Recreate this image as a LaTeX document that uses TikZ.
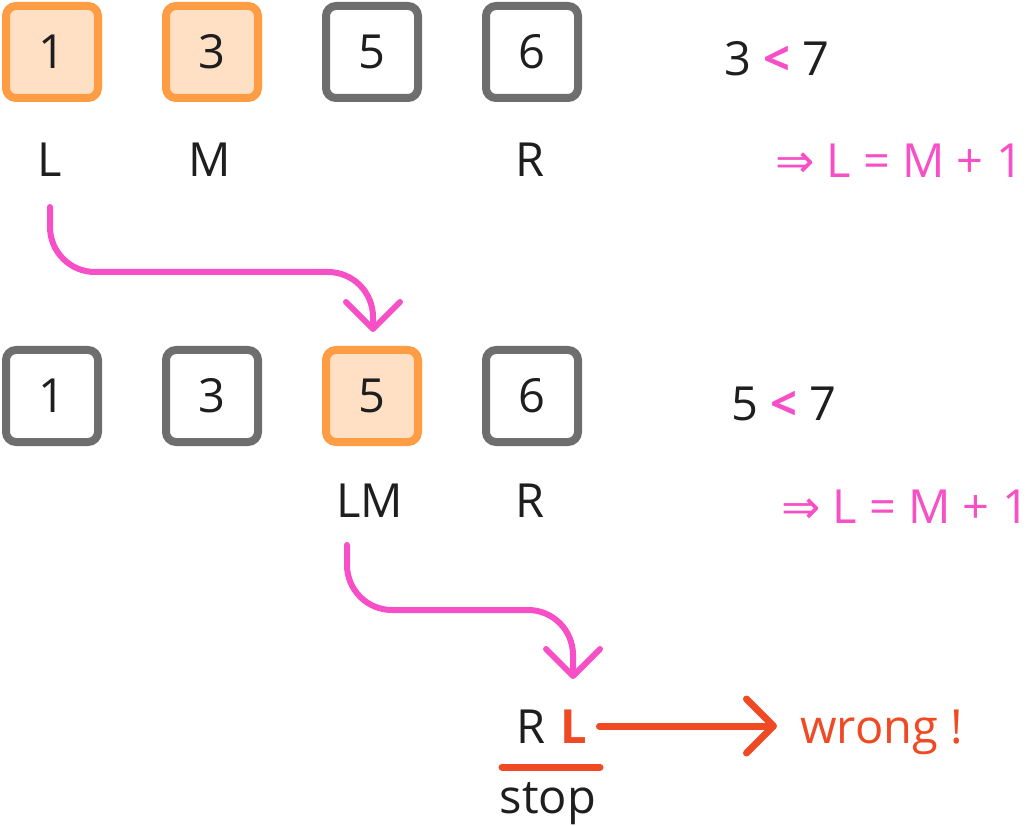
\documentclass[tikz,border=0pt]{standalone}
\usepackage{fontspec}
\setmainfont{Open Sans}
\newfontfamily\symfont{DejaVu Sans}
\usetikzlibrary{arrows.meta,calc}
\definecolor{boxgray}{HTML}{6E6E6E}
\definecolor{hiline}{HTML}{FF9D45}
\definecolor{hifill}{HTML}{FFE0C4}
\definecolor{pinkc}{HTML}{F74FC5}
\definecolor{redc}{HTML}{EF4A23}
\definecolor{ink}{HTML}{1E1E1E}
\begin{document}
\begin{tikzpicture}[x=1pt,y=-1pt,
  every node/.style={font=\fontsize{47}{56}\selectfont, text=ink, inner sep=0pt},
  cell/.style={draw=boxgray, line width=8pt, rounded corners=10pt, minimum size=92pt, fill=white},
  hicell/.style={cell, draw=hiline, fill=hifill},
  lbl/.style={anchor=base},
  note/.style={anchor=base, text=pinkc},
  movearrow/.style={draw=pinkc, line width=6pt, line cap=round, rounded corners=45pt,
    -{Straight Barb[length=27pt,width=54pt,round]}},
  failarrow/.style={draw=redc, line width=7pt, line cap=round,
    -{Straight Barb[length=27pt,width=54pt,round]}}
]
\useasboundingbox (0,0) rectangle (1031,826);

% first pass: array and pointers
\node[hicell] (a1) at (52,52) {1};
\node[hicell] (a2) at (212,52) {3};
\node[cell]   (a3) at (372,52) {5};
\node[cell]   (a4) at (532,52) {6};
\node[lbl] (l1) at (50,177) {L};
\node[lbl] (m1) at (210,177) {M};
\node[lbl] (r1) at (530,177) {R};
\node[lbl] (c1) at (777,76) {3 {\bfseries\color{pinkc}<} 7};
\node[note] (n1) at (899,178) {{\symfont ⇒} L = M + 1};

% second pass
\node[cell]   (b1) at (52,396) {1};
\node[cell]   (b2) at (212,396) {3};
\node[hicell] (b3) at (372,396) {5};
\node[cell]   (b4) at (532,396) {6};
\node[lbl] (lm2) at (370,517) {LM};
\node[lbl] (r2) at (530,517) {R};
\node[lbl] (c2) at (784,420) {5 {\bfseries\color{pinkc}<} 7};
\node[note] (n2) at (905,523) {{\symfont ⇒} L = M + 1};

% final state: pointers crossed
\node[lbl] (r3) at (531,743) {R};
\node[lbl, text=redc, font=\fontsize{47}{56}\selectfont\bfseries] (l3) at (574,743) {L};
\node[lbl, anchor=base west, text=redc] (wrong) at (800,743) {wrong !};
\node[lbl] (stop) at (548,813) {stop};
\draw[redc, line width=7pt, line cap=round] ($(stop.base)+(-46,-46)$) -- ($(stop.base)+(52,-46)$);

% moves of L
\coordinate (mid1) at (0,272);
\coordinate (s1) at ($(l1.base)+(0,30)$);
\coordinate (e1) at ($(b3.north)+(1,-14)$);
\draw[movearrow] (s1) -- (s1 |- mid1) -- (e1 |- mid1) -- (e1);

\coordinate (mid2) at (0,610);
\coordinate (s2) at ($(lm2.base)+(-23,28)$);
\coordinate (e2) at ($(l3.base)+(-1,-64)$);
\draw[movearrow] (s2) -- (s2 |- mid2) -- (e2 |- mid2) -- (e2);

\draw[failarrow] ($(l3.base east)+(12,-17)$) -- ($(wrong.base west)+(-23,-17)$);
\end{tikzpicture}
\end{document}
